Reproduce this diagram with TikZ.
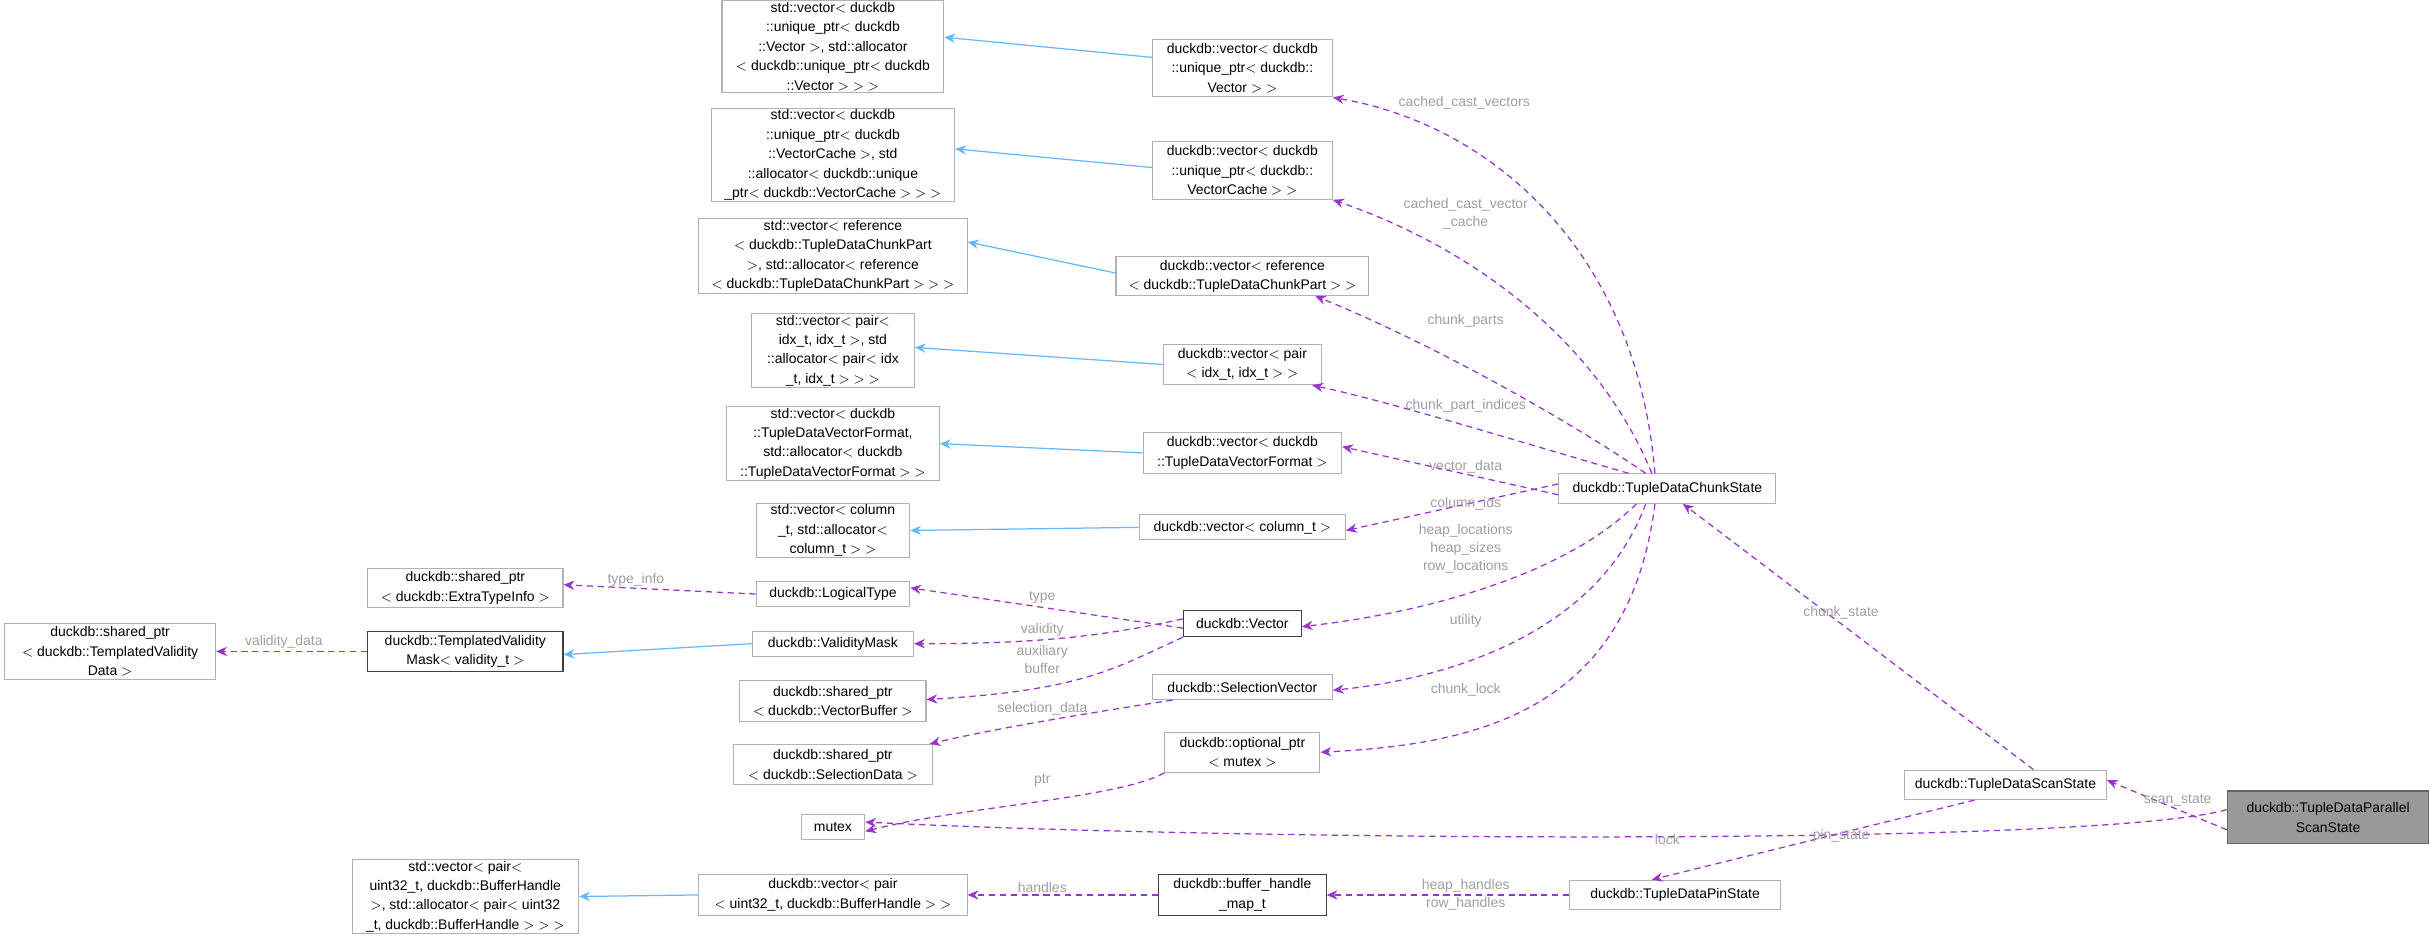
\documentclass[tikz,border=0pt]{standalone}
\usepackage{fontspec}
\setmainfont{Liberation Sans}
\usetikzlibrary{arrows.meta}
\definecolor{pur}{HTML}{9A32CD}
\definecolor{blu}{HTML}{63B8FF}
\definecolor{lab}{HTML}{9E9E9E}
\begin{document}
\begin{tikzpicture}[x=1pt,y=-1pt,
  font=\fontsize{9}{12.5}\selectfont,
  box/.style={draw=black!30,fill=white,align=center,inner sep=1pt,line width=0.7pt},
  dbox/.style={box,draw=black!75},
  pa/.style={draw=pur,dashed,dash pattern=on 4pt off 3pt,line width=0.8pt,-{Stealth[length=7pt,width=6pt]}},
  ba/.style={draw=blu,line width=0.8pt,-{Stealth[length=7pt,width=6pt]}},
  lb/.style={text=lab,align=center,inner sep=0pt,font=\fontsize{9}{11.5}\selectfont}]
\useasboundingbox (0,0) rectangle (1568,603);
% right side
\node[box,fill=black!40,draw=black!60,minimum width=130,minimum height=34] (P) at (1501,527) {duckdb::TupleDataParallel\\ScanState};
\node[box,minimum width=130,minimum height=19] (SS) at (1293,506) {duckdb::TupleDataScanState};
\node[box,minimum width=136,minimum height=19] (PS) at (1080,577) {duckdb::TupleDataPinState};
\node[box,minimum width=140,minimum height=19] (CS) at (1075,315) {duckdb::TupleDataChunkState};
% middle column
\node[box,minimum width=116,minimum height=37] (v1) at (801,44) {duckdb::vector$<$ duckdb\\::unique\_ptr$<$ duckdb::\\Vector $>$ $>$};
\node[box,minimum width=116,minimum height=37] (v2) at (801,110) {duckdb::vector$<$ duckdb\\::unique\_ptr$<$ duckdb::\\VectorCache $>$ $>$};
\node[box,minimum width=163,minimum height=25] (v3) at (801,178) {duckdb::vector$<$ reference\\$<$ duckdb::TupleDataChunkPart $>$ $>$};
\node[box,minimum width=102,minimum height=26] (v4) at (801,235) {duckdb::vector$<$ pair\\$<$ idx\_t, idx\_t $>$ $>$};
\node[box,minimum width=128,minimum height=26] (v5) at (801,292) {duckdb::vector$<$ duckdb\\::TupleDataVectorFormat $>$};
\node[box,minimum width=133,minimum height=16] (v6) at (801,340) {duckdb::vector$<$ column\_t $>$};
\node[dbox,minimum width=76,minimum height=17] (Vec) at (801,402) {duckdb::Vector};
\node[box,minimum width=116,minimum height=16] (SV) at (801,443) {duckdb::SelectionVector};
\node[box,minimum width=100,minimum height=26] (OP) at (801,485) {duckdb::optional\_ptr\\$<$ mutex $>$};
\node[dbox,minimum width=108,minimum height=26] (BHM) at (801,577) {duckdb::buffer\_handle\\\_map\_t};
% left-middle column
\node[box,minimum width=143,minimum height=55] (s1) at (537,30) {std::vector$<$ duckdb\\::unique\_ptr$<$ duckdb\\::Vector $>$, std::allocator\\$<$ duckdb::unique\_ptr$<$ duckdb\\::Vector $>$ $>$ $>$};
\node[box,minimum width=157,minimum height=54] (s2) at (537,100) {std::vector$<$ duckdb\\::unique\_ptr$<$ duckdb\\::VectorCache $>$, std\\::allocator$<$ duckdb::unique\\\_ptr$<$ duckdb::VectorCache $>$ $>$ $>$};
\node[box,minimum width=173,minimum height=45] (s3) at (537,165) {std::vector$<$ reference\\$<$ duckdb::TupleDataChunkPart\\ $>$, std::allocator$<$ reference\\$<$ duckdb::TupleDataChunkPart $>$ $>$ $>$};
\node[box,minimum width=105,minimum height=45] (s4) at (537,226) {std::vector$<$ pair$<$\\ idx\_t, idx\_t $>$, std\\::allocator$<$ pair$<$ idx\\\_t, idx\_t $>$ $>$ $>$};
\node[box,minimum width=137,minimum height=45] (s5) at (537,286) {std::vector$<$ duckdb\\::TupleDataVectorFormat,\\ std::allocator$<$ duckdb\\::TupleDataVectorFormat $>$ $>$};
\node[box,minimum width=99,minimum height=35] (s6) at (537,342) {std::vector$<$ column\\\_t, std::allocator$<$\\ column\_t $>$ $>$};
\node[box,minimum width=99,minimum height=16] (LT) at (537,383) {duckdb::LogicalType};
\node[box,minimum width=104,minimum height=16] (VM) at (537,415) {duckdb::ValidityMask};
\node[box,minimum width=120,minimum height=26] (VB) at (537,452) {duckdb::shared\_ptr\\$<$ duckdb::VectorBuffer $>$};
\node[box,minimum width=128,minimum height=26] (SD) at (537,493) {duckdb::shared\_ptr\\$<$ duckdb::SelectionData $>$};
\node[box,minimum width=41,minimum height=16] (MX) at (537,533) {mutex};
\node[box,minimum width=173,minimum height=26] (VP) at (537,577) {duckdb::vector$<$ pair\\$<$ uint32\_t, duckdb::BufferHandle $>$ $>$};
% left columns
\node[box,minimum width=126,minimum height=25] (ETI) at (300,379) {duckdb::shared\_ptr\\$<$ duckdb::ExtraTypeInfo $>$};
\node[dbox,minimum width=126,minimum height=26] (TVM) at (300,420) {duckdb::TemplatedValidity\\Mask$<$ validity\_t $>$};
\node[box,minimum width=146,minimum height=45] (SVP) at (300,578) {std::vector$<$ pair$<$\\ uint32\_t, duckdb::BufferHandle\\ $>$, std::allocator$<$ pair$<$ uint32\\\_t, duckdb::BufferHandle $>$ $>$ $>$};
\node[box,minimum width=136,minimum height=36] (TVD) at (71,420) {duckdb::shared\_ptr\\$<$ duckdb::TemplatedValidity\\Data $>$};
% blue edges
\draw[ba] ([yshift=7]v1.west) -- ([yshift=6]s1.east);
\draw[ba] ([yshift=2]v2.west) -- ([yshift=4]s2.east);
\draw[ba] ([yshift=2]v3.west) -- ([yshift=9]s3.east);
\draw[ba] (v4.west) -- ([yshift=2]s4.east);
\draw[ba] (v5.west) -- (s5.east);
\draw[ba] (v6.west) -- (s6.east);
\draw[ba] (VM.west) -- ([yshift=-2]TVM.east);
\draw[ba] (VP.west) -- (SVP.east);
% purple edges from chunk state
\draw[pa] ([xshift=-8]CS.north) .. controls (1055,160) and (960,80) .. (v1.south east);
\draw[pa] ([xshift=-10]CS.north) .. controls (1030,220) and (950,160) .. (v2.south east);
\draw[pa] ([xshift=-14]CS.north) .. controls (1010,270) and (920,220) .. ([xshift=47]v3.south);
\draw[pa] ([xshift=-25]CS.north) .. controls (980,285) and (900,260) .. ([xshift=45]v4.south);
\draw[pa] ([yshift=-4]CS.west) -- ([yshift=4]v5.east);
\draw[pa] ([yshift=3]CS.west) -- ([yshift=-2]v6.east);
\draw[pa] ([xshift=-20]CS.south) .. controls (1010,370) and (920,395) .. ([yshift=-2]Vec.east);
\draw[pa] ([xshift=-14]CS.south) .. controls (1030,410) and (930,438) .. ([yshift=-2]SV.east);
\draw[pa] ([xshift=-8]CS.south) .. controls (1050,460) and (950,480) .. (OP.east);
\node[lb] at (944,66) {cached\_cast\_vectors};
\node[lb] at (945,138) {cached\_cast\_vector\\\_cache};
\node[lb] at (945,207) {chunk\_parts};
\node[lb] at (945,262) {chunk\_part\_indices};
\node[lb] at (945,301) {vector\_data};
\node[lb] at (945,325) {column\_ids};
\node[lb] at (945,354) {heap\_locations\\heap\_sizes\\row\_locations};
\node[lb] at (945,400) {utility};
\node[lb] at (945,445) {chunk\_lock};
% right edges
\draw[pa] ([xshift=18]SS.north) -- ([xshift=10]CS.south);
\node[lb] at (1187,395) {chunk\_state};
\draw[pa] ([yshift=-8]P.west) -- ([yshift=3]SS.east);
\node[lb] at (1404,516) {scan\_state};
\draw[pa] ([yshift=5]P.west) .. controls (1350,546) and (800,542) .. ([yshift=3]MX.east);
\node[lb] at (1075,541) {lock};
\draw[pa] ([xshift=-20]SS.south) -- ([xshift=-15]PS.north);
\node[lb] at (1187,539) {pin\_state};
\draw[pa] (PS.west) -- (BHM.east);
\node[lb] at (945,577) {heap\_handles\\row\_handles};
\draw[pa] (BHM.west) -- (VP.east);
\node[lb] at (672,572) {handles};
% left purple edges
\draw[pa] (OP.south west) .. controls (720,515) and (620,520) .. ([yshift=-3]MX.east);
\node[lb] at (672,503) {ptr};
\draw[pa] ([xshift=-45]SV.south) .. controls (700,460) and (640,470) .. ([xshift=-2]SD.north east);
\node[lb] at (672,457) {selection\_data};
\draw[pa] ([yshift=-3]Vec.west) -- ([yshift=4]LT.east);
\node[lb] at (672,385) {type};
\draw[pa] ([yshift=3]Vec.west) .. controls (700,413) and (650,415) .. (VM.east);
\node[lb] at (672,406) {validity};
\draw[pa] (Vec.south west) .. controls (720,430) and (700,445) .. ([yshift=1]VB.east);
\node[lb] at (672,425) {auxiliary\\buffer};
\draw[pa] (LT.west) -- ([yshift=2]ETI.east);
\node[lb] at (410,374) {type\_info};
\draw[pa] (TVM.west) -- (TVD.east);
\node[lb] at (183,414) {validity\_data};
\end{tikzpicture}
\end{document}
